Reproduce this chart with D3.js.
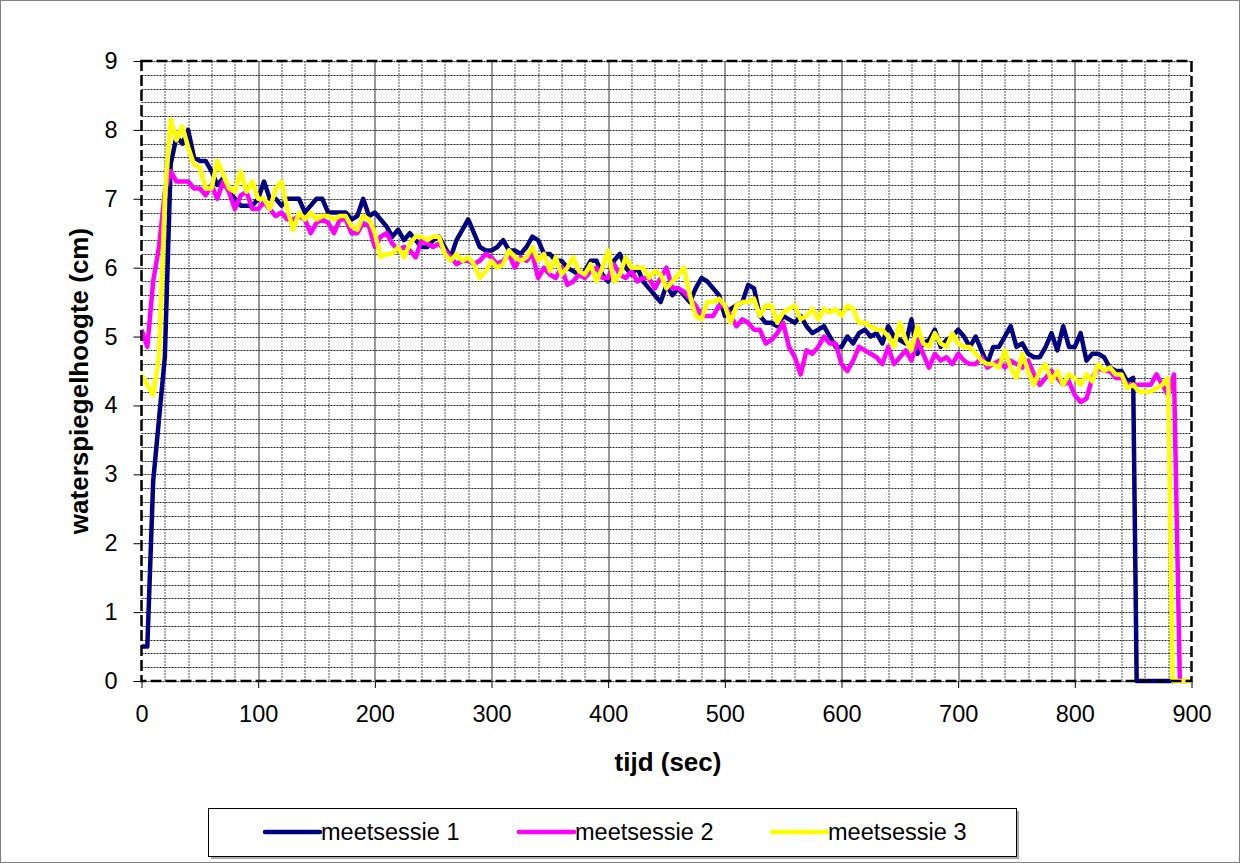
<!DOCTYPE html>
<html>
<head>
<meta charset="utf-8">
<script src="https://cdn.jsdelivr.net/npm/d3@7"></script>
<style>
  body { margin: 0; background: #fff; }
  svg { display: block; font-family: "Liberation Sans", Arial, sans-serif; }
</style>
</head>
<body>
<svg width="1240" height="863"></svg>
<script>
// meetwaarden, elke 5 seconden vanaf t = 0
var sessie1 = [0.5,0.5,2.9,3.8,4.7,7.5,7.9,7.8,8.0,7.6,
  7.55,7.55,7.4,7.2,7.3,7.1,7.0,6.9,6.9,6.9,
  7.0,7.25,7.0,7.0,6.9,7.0,7.0,7.0,6.8,6.9,
  7.0,7.0,6.8,6.8,6.8,6.8,6.7,6.75,7.0,6.75,
  6.8,6.7,6.6,6.45,6.55,6.4,6.5,6.4,6.3,6.3,
  6.4,6.45,6.3,6.15,6.4,6.55,6.7,6.5,6.3,6.25,
  6.25,6.3,6.4,6.25,6.25,6.2,6.3,6.45,6.4,6.2,
  6.2,6.1,6.1,6.0,5.95,5.9,5.95,6.1,6.1,5.9,
  5.8,6.1,6.2,6.0,5.9,6.0,5.8,5.7,5.6,5.5,
  5.75,5.6,5.7,5.6,5.5,5.7,5.85,5.8,5.7,5.6,
  5.3,5.4,5.45,5.5,5.75,5.7,5.3,5.2,5.2,5.15,
  5.3,5.25,5.2,5.3,5.15,5.05,5.1,5.15,5.0,4.85,
  4.85,5.0,4.9,5.05,5.1,5.0,5.05,4.9,5.15,5.0,
  4.95,4.9,5.25,4.75,4.9,4.95,5.1,4.85,4.95,5.0,
  5.1,5.0,4.85,5.0,4.8,4.6,4.85,4.85,5.0,5.15,
  4.85,4.9,4.75,4.7,4.7,4.85,5.05,4.8,5.15,4.85,
  4.85,5.05,4.65,4.75,4.75,4.7,4.55,4.5,4.5,4.35,
  4.4];
var staart1 = [[853, 0], [885, 0]];

var sessie2 = [5.1,4.85,5.8,6.3,7.1,7.4,7.25,7.25,7.25,7.15,
  7.15,7.05,7.2,7.0,7.25,7.1,6.85,7.05,7.1,6.85,
  6.85,6.95,6.85,6.75,6.8,6.7,6.7,6.75,6.7,6.5,
  6.65,6.7,6.65,6.5,6.7,6.7,6.5,6.5,6.65,6.6,
  6.3,6.45,6.5,6.35,6.25,6.3,6.25,6.15,6.4,6.35,
  6.3,6.35,6.25,6.15,6.05,6.1,6.1,6.05,6.1,6.2,
  6.15,6.05,6.1,6.2,6.0,6.15,6.1,6.2,5.85,6.0,
  5.9,5.85,6.0,5.75,5.8,5.9,5.85,5.95,6.0,5.85,
  5.85,6.05,5.9,5.85,5.95,5.8,5.85,5.85,5.7,5.85,
  6.0,5.7,5.7,5.65,5.55,5.45,5.3,5.3,5.3,5.45,
  5.45,5.3,5.15,5.25,5.2,5.1,5.1,4.9,4.95,5.05,
  5.2,4.85,4.7,4.45,4.8,4.75,4.85,5.0,4.9,4.9,
  4.6,4.5,4.65,4.85,4.8,4.75,4.7,4.6,4.85,4.6,
  4.7,4.8,4.65,4.95,4.75,4.55,4.75,4.65,4.7,4.6,
  4.75,4.65,4.6,4.6,4.7,4.55,4.6,4.65,4.55,4.65,
  4.6,4.55,4.65,4.45,4.3,4.4,4.5,4.4,4.3,4.35,
  4.15,4.05,4.1,4.4,4.55,4.5,4.5,4.4,4.4,4.3,
  4.3,4.3,4.3,4.3,4.45,4.3,4.15,4.45];
var staart2 = [[890, 0], [895, 0]];

var sessie3 = [4.45,4.3,4.15,4.7,7.0,8.15,7.85,8.05,7.75,7.5,
  7.45,7.15,7.15,7.55,7.35,7.15,7.1,7.4,7.1,7.25,
  7.0,7.0,6.85,7.15,7.25,6.85,6.55,6.8,6.7,6.8,
  6.7,6.75,6.75,6.7,6.75,6.75,6.6,6.55,6.75,6.7,
  6.5,6.15,6.2,6.2,6.3,6.15,6.35,6.45,6.45,6.4,
  6.45,6.45,6.2,6.1,6.2,6.1,6.15,6.05,5.85,5.95,
  6.1,6.0,6.05,6.25,6.15,6.1,6.15,6.3,6.1,6.2,
  5.95,6.15,5.9,6.0,6.15,5.95,5.9,6.05,5.8,6.0,
  6.25,5.8,5.9,6.15,6.0,6.0,6.0,5.85,5.95,5.9,
  5.7,5.8,5.9,6.0,5.6,5.3,5.25,5.5,5.5,5.55,
  5.45,5.2,5.45,5.5,5.5,5.55,5.3,5.45,5.45,5.2,
  5.35,5.4,5.45,5.25,5.3,5.4,5.25,5.4,5.35,5.4,
  5.3,5.45,5.4,5.2,5.2,5.15,5.1,5.1,5.0,4.85,
  5.2,4.95,4.8,5.15,4.9,4.85,5.05,4.9,4.85,5.05,
  4.9,4.85,4.85,4.75,4.65,4.6,4.6,4.55,4.8,4.55,
  4.4,4.75,4.5,4.3,4.5,4.6,4.35,4.5,4.3,4.45,
  4.4,4.3,4.45,4.35,4.6,4.5,4.55,4.45,4.45,4.25,
  4.3,4.2,4.2,4.2,4.25,4.3,4.4];
var staart3 = [[884, 0], [900, 0]];

var namen = ["meetsessie 1", "meetsessie 2", "meetsessie 3"];
var kleuren = ["#000080", "#ff00ff", "#ffff00"];
var xTicks = [0, 100, 200, 300, 400, 500, 600, 700, 800, 900];
var yTicks = [0, 1, 2, 3, 4, 5, 6, 7, 8, 9];

function maakReeks(waarden, staart) {
  var pts = waarden.map(function(v, i) { return [i * 5, v]; });
  return pts.concat(staart);
}
var reeksen = [maakReeks(sessie1, staart1), maakReeks(sessie2, staart2), maakReeks(sessie3, staart3)];

var svg = d3.select("svg");
var margin = {left: 141.5, top: 61};
var width = 1191.5 - margin.left, height = 681 - margin.top;

// buitenrand
svg.append("rect").attr("x", 0.5).attr("y", 0.5).attr("width", 1239).attr("height", 862)
  .attr("fill", "#fff").attr("stroke", "#808080");

var x = d3.scaleLinear().domain([0, 900]).range([0, width]);
var y = d3.scaleLinear().domain([0, 9]).range([height, 0]);

var g = svg.append("g").attr("transform", "translate(" + margin.left + "," + margin.top + ")");

// hulplijnen
g.selectAll(".hgrid").data(d3.range(0, 9.01, 0.2)).enter().append("line")
  .attr("x1", 0).attr("x2", width)
  .attr("y1", function(d) { return Math.round(y(d)) + 0.5; })
  .attr("y2", function(d) { return Math.round(y(d)) + 0.5; })
  .attr("stroke", "#222").attr("stroke-dasharray", "2,1");
g.selectAll(".vgrid").data(d3.range(20, 900, 20).filter(function(d) { return d % 100 != 0; })).enter().append("line")
  .attr("y1", 0).attr("y2", height)
  .attr("x1", function(d) { return Math.round(x(d)) + 0.5; })
  .attr("x2", function(d) { return Math.round(x(d)) + 0.5; })
  .attr("stroke", "#555").attr("stroke-dasharray", "2,1");
g.selectAll(".vmajor").data(xTicks.slice(1, -1)).enter().append("line")
  .attr("y1", 0).attr("y2", height)
  .attr("x1", function(d) { return Math.round(x(d)) + 0.5; })
  .attr("x2", function(d) { return Math.round(x(d)) + 0.5; })
  .attr("stroke", "#333");

// assen
var xAxis = g.append("g").attr("transform", "translate(0," + height + ")")
  .call(d3.axisBottom(x).tickValues(xTicks).tickSize(7).tickPadding(17));
var yAxis = g.append("g")
  .call(d3.axisLeft(y).tickValues(yTicks).tickSize(8).tickPadding(16));
[xAxis, yAxis].forEach(function(a) {
  a.select(".domain").remove();
  a.selectAll("text").attr("font-size", 23.5).attr("fill", "#000").attr("font-family", "Liberation Sans, Arial, sans-serif");
  a.selectAll("line").attr("stroke", "#000");
});

// lijnen
var lijn = d3.line().x(function(d) { return x(d[0]); }).y(function(d) { return y(d[1]); });
g.selectAll(".reeks").data(reeksen).enter().append("path")
  .attr("d", lijn)
  .attr("fill", "none")
  .attr("stroke", function(d, i) { return kleuren[i]; })
  .attr("stroke-width", 4.5)
  .attr("stroke-linejoin", "round");

// gestippelde rand
g.append("rect").attr("x", 0).attr("y", 0).attr("width", width).attr("height", height)
  .attr("fill", "none").attr("stroke", "#000").attr("stroke-width", 2.5).attr("stroke-dasharray", "11,4");

// astitels
svg.append("text").attr("x", 668).attr("y", 771).attr("text-anchor", "middle")
  .attr("font-size", 26).attr("font-weight", "bold").text("tijd (sec)");
svg.append("text").attr("transform", "translate(88,381) rotate(-90)").attr("text-anchor", "middle")
  .attr("font-size", 26).attr("font-weight", "bold").text("waterspiegelhoogte (cm)");

// legenda
var leg = svg.append("g");
leg.append("rect").attr("x", 211).attr("y", 811).attr("width", 808).attr("height", 48).attr("fill", "#aaa");
leg.append("rect").attr("x", 208.5).attr("y", 808.5).attr("width", 808).attr("height", 48)
  .attr("fill", "#fff").attr("stroke", "#000");
var legX = [265, 519, 772];
namen.forEach(function(n, i) {
  leg.append("line").attr("x1", legX[i]).attr("x2", legX[i] + 55).attr("y1", 832).attr("y2", 832)
    .attr("stroke", kleuren[i]).attr("stroke-width", 4.5).attr("stroke-linecap", "round");
  leg.append("text").attr("x", legX[i] + 56).attr("y", 840).attr("font-size", 23.5).text(n);
});
</script>
</body>
</html>
